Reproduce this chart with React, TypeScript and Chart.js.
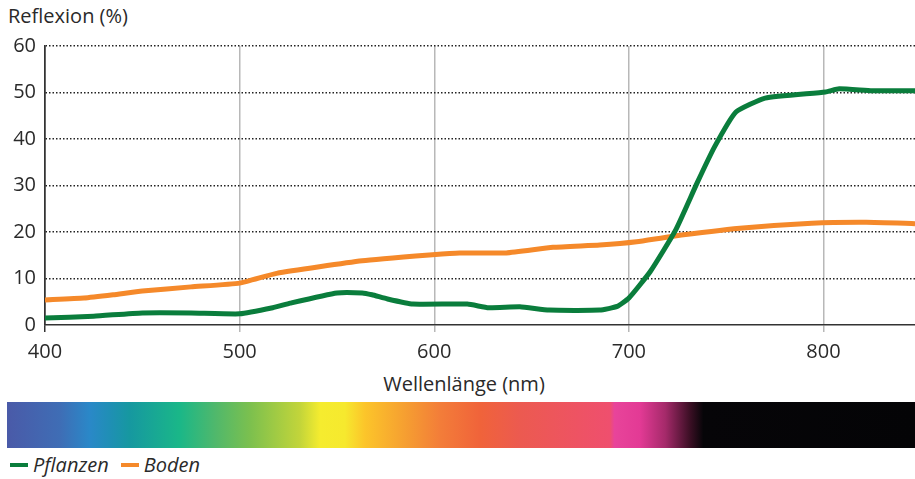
import React, { useEffect, useRef } from "react";
import { Chart, registerables } from "chart.js";

Chart.register(...registerables);

// Wavelength (nm) ticks
const xTicks = [400, 500, 600, 700, 800];
const yTicks = [0, 10, 20, 30, 40, 50, 60];

// Pflanzen (plants) reflectance
const pflanzenNm = [400, 425, 450, 475, 500, 517, 526, 550, 563, 568, 576, 589, 617, 628, 644, 659, 685, 694, 700, 711, 724, 735, 744, 755, 770, 801, 808, 825, 847];
const pflanzenVal = [1.5, 1.9, 2.6, 2.6, 2.4, 3.7, 4.7, 6.9, 6.9, 6.5, 5.6, 4.5, 4.5, 3.7, 3.9, 3.2, 3.2, 4.0, 5.8, 11.5, 20.4, 30.5, 38.3, 45.8, 48.8, 50.1, 50.8, 50.4, 50.4];

// Boden (soil) reflectance
const bodenNm = [400, 420, 435, 450, 475, 500, 519, 563, 599, 613, 637, 661, 685, 704, 721, 757, 794, 822, 847];
const bodenVal = [5.4, 5.8, 6.5, 7.3, 8.2, 9.0, 11.1, 13.8, 15.1, 15.5, 15.5, 16.7, 17.2, 17.9, 19.0, 20.8, 21.9, 22.1, 21.8];

const seriesLabels = ["Pflanzen", "Boden"];
const GREEN = "#0a7d3c";
const ORANGE = "#f5892a";
const TEXT = "#2a2a2a";
const FONT = "'Open Sans', 'Noto Sans', sans-serif";

const spectrum =
  "linear-gradient(to right, #4a5aa8 0%, #3f6db5 5.8%, #2a88c8 9.1%, #1f8fb5 11.3%, #1698a0 13.5%, #1ab788 19%, #4fb86c 22.9%, #7cc04e 26.8%, #c3d53a 32.3%, #f5ec2f 34.5%, #f6e92e 37.2%, #fcc52a 39.4%, #f59a32 44.4%, #f37d39 47.7%, #f0633a 52.1%, #ec5a50 56.5%, #ef4f6e 66.4%, #e8449a 66.9%, #e33a95 69.7%, #a52a6a 72.5%, #3c0f25 75.2%, #060508 76.7%, #040406 100%)";

export default function App() {
  const ref = useRef<HTMLCanvasElement>(null);

  useEffect(() => {
    if (!ref.current) return;
    const chart = new Chart(ref.current, {
      type: "line",
      data: {
        datasets: [
          {
            label: seriesLabels[0],
            data: pflanzenNm.map((x, i) => ({ x, y: pflanzenVal[i] })),
            borderColor: GREEN,
            backgroundColor: GREEN,
            borderWidth: 5,
            pointRadius: 0,
            tension: 0.15,
            borderJoinStyle: "round",
          },
          {
            label: seriesLabels[1],
            data: bodenNm.map((x, i) => ({ x, y: bodenVal[i] })),
            borderColor: ORANGE,
            backgroundColor: ORANGE,
            borderWidth: 5,
            pointRadius: 0,
            tension: 0.15,
            borderJoinStyle: "round",
          },
        ],
      },
      options: {
        animation: false,
        responsive: false,
        maintainAspectRatio: false,
        layout: { padding: { top: 46, left: 0, right: 0, bottom: 0 } },
        plugins: { legend: { display: false }, tooltip: { enabled: false } },
        scales: {
          x: {
            type: "linear",
            min: 400,
            max: 847,
            afterFit: (s: any) => {
              s.height = 45;
            },
            afterBuildTicks: (s: any) => {
              s.ticks = xTicks.map((v) => ({ value: v }));
            },
            ticks: {
              includeBounds: false,
              autoSkip: false,
              maxRotation: 0,
              padding: 8,
              color: TEXT,
              font: { family: FONT, size: 20 },
            },
            grid: {
              color: (ctx: any) => (ctx.tick && ctx.tick.value === 400 ? "#333" : "#b8b8b8"),
              lineWidth: 1.5,
              tickLength: 7,
              drawTicks: true,
            },
            border: { color: "#333", width: 1.5 },
          },
          y: {
            min: 0,
            max: 60,
            afterFit: (s: any) => {
              s.width = 45;
            },
            afterBuildTicks: (s: any) => {
              s.ticks = yTicks.map((v) => ({ value: v }));
            },
            ticks: {
              padding: 9,
              color: TEXT,
              font: { family: FONT, size: 20 },
            },
            grid: {
              drawTicks: false,
              color: (ctx: any) => (ctx.tick && ctx.tick.value === 0 ? "rgba(0,0,0,0)" : "#222"),
              lineWidth: 1.5,
            },
            border: { color: "#333", width: 1.5, dash: [1.5, 2] },
          },
        },
      },
    });
    return () => chart.destroy();
  }, []);

  const legendItem = (color: string, label: string) => (
    <span style={{ display: "inline-flex", alignItems: "center", marginRight: 12 }}>
      <span style={{ display: "inline-block", width: 18, height: 4, background: color, marginRight: 5 }} />
      <span style={{ fontStyle: "italic" }}>{label}</span>
    </span>
  );

  return (
    <div
      style={{
        position: "fixed",
        left: 0,
        top: 0,
        width: 915,
        height: 479,
        background: "#fff",
        fontFamily: FONT,
        color: TEXT,
        overflow: "hidden",
      }}
    >
      <div style={{ position: "absolute", left: 8, top: 3, fontSize: 20, lineHeight: "26px" }}>Reflexion (%)</div>
      <canvas ref={ref} width={915} height={370} style={{ position: "absolute", left: 0, top: 0, width: 915, height: 370 }} />
      <div
        style={{
          position: "absolute",
          left: 464,
          top: 371,
          transform: "translateX(-50%)",
          fontSize: 20,
          lineHeight: "26px",
          whiteSpace: "nowrap",
        }}
      >
        Wellenlänge (nm)
      </div>
      <div style={{ position: "absolute", left: 7, top: 402, width: 908, height: 46, background: spectrum }} />
      <div style={{ position: "absolute", left: 10, top: 452, fontSize: 20, lineHeight: "26px", display: "flex" }}>
        {legendItem(GREEN, seriesLabels[0])}
        {legendItem(ORANGE, seriesLabels[1])}
      </div>
    </div>
  );
}
